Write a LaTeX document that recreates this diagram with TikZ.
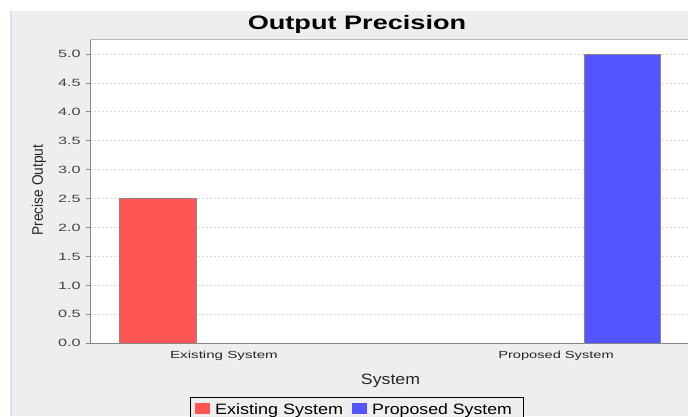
\documentclass[tikz,border=0pt]{standalone}
\usepackage{fontspec}
\setmainfont{Liberation Sans}
\usepackage{graphicx}
\definecolor{bgc}{HTML}{EEEEEE}
\definecolor{edgec}{HTML}{D5E2EF}
\definecolor{barred}{HTML}{FF5555}
\definecolor{barblue}{HTML}{5555FF}
\definecolor{axisc}{HTML}{888888}
\definecolor{gridc}{HTML}{D8D8D8}
\definecolor{labc}{HTML}{444444}
\tikzset{
  ticklab/.style={anchor=base east, inner sep=0pt, text=labc, font=\fontsize{10.5}{12}\selectfont},
  catlab/.style={anchor=base, inner sep=0pt, text=black!85, font=\fontsize{10.3}{12}\selectfont},
  leglab/.style={anchor=base west, inner sep=0pt, text=black, font=\fontsize{15}{18}\selectfont},
  bar/.style={draw=axisc, line width=0.8pt},
  gridline/.style={draw=gridc, line width=0.7pt, dash pattern=on 2pt off 2pt}
}
\begin{document}
\begin{tikzpicture}[x=1pt,y=-1pt]
\useasboundingbox (0,0) rectangle (688,416);
\fill[white] (0,0) rectangle (688,416);
\fill[bgc] (11,10.5) rectangle (688,416);
\fill[edgec] (9.5,10.5) rectangle (12,416);
% title
\node[anchor=base, inner sep=0pt, font=\fontsize{19.5}{22}\selectfont\bfseries] (title) at (357,29) {\scalebox{1.39}[1]{Output Precision}};
% plot area
\fill[white] (90,39.5) rectangle (688,343);
\foreach \v in {0.5,1.0,...,5.0} {
  \draw[gridline] (90,{343-57.8*\v}) -- (688,{343-57.8*\v});
}
\draw[gray!55, line width=0.8pt] (90,39.5) -- (688,39.5);
% bars
\filldraw[bar, fill=barred] (119.5,{343-57.8*2.5}) rectangle (196,343);
\filldraw[bar, fill=barblue] (584.5,54) rectangle (660.5,343);
% axes
\draw[axisc, line width=1pt] (90,39.5) -- (90,343);
\draw[axisc, line width=1pt] (87,343) -- (688,343);
\foreach \v/\t in {0/0.0,1/0.5,2/1.0,3/1.5,4/2.0,5/2.5,6/3.0,7/3.5,8/4.0,9/4.5,10/5.0} {
  \draw[axisc, line width=0.8pt] (86,{343-28.9*\v}) -- (90,{343-28.9*\v});
  \node[ticklab] (t\v) at (81,{343-28.9*\v+3.8}) {\scalebox{1.55}[1]{\t}};
}
% axis labels
\node[rotate=90, inner sep=0pt, text=black!85, font=\fontsize{12.5}{14}\selectfont] (ylab) at (39,190) {\scalebox{1.1}[1.22]{Precise Output}};
\node[catlab] (c1) at (224,358.5) {\scalebox{1.47}[1]{Existing System}};
\node[catlab] (c2) at (556,358.5) {\scalebox{1.42}[1]{Proposed System}};
\node[anchor=base, inner sep=0pt, text=black!85, font=\fontsize{15}{18}\selectfont] (xlab) at (390.5,384) {\scalebox{1.18}[1]{System}};
% legend
\draw[black, line width=0.9pt, fill=bgc] (190,397) rectangle (523,420);
\fill[barred] (195,403) rectangle (210,413.5);
\node[leglab] (l1) at (215,414) {\scalebox{1.2}[1]{Existing System}};
\fill[barblue] (352,403) rectangle (367,413.5);
\node[leglab] (l2) at (372,414) {\scalebox{1.18}[1]{Proposed System}};
\end{tikzpicture}
\end{document}
